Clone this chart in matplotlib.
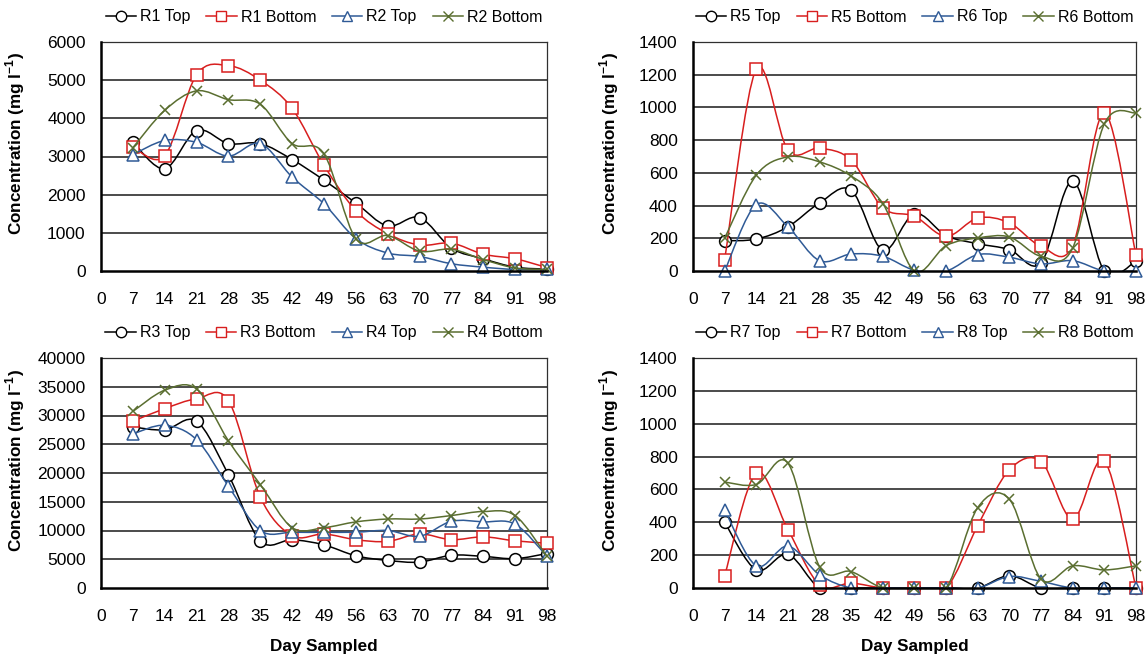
import matplotlib
matplotlib.use("Agg")
import matplotlib.pyplot as plt
from matplotlib.path import Path
from matplotlib.patches import PathPatch
from matplotlib.lines import Line2D
import numpy as np

plt.rcParams['font.family'] = ['Liberation Sans', 'DejaVu Sans']
plt.rcParams['mathtext.fontset'] = 'custom'
plt.rcParams['mathtext.rm'] = 'Liberation Sans'
plt.rcParams['mathtext.bf'] = 'Liberation Sans:bold'

days = [7, 14, 21, 28, 35, 42, 49, 56, 63, 70, 77, 84, 91, 98]
xticks = [0, 7, 14, 21, 28, 35, 42, 49, 56, 63, 70, 77, 84, 91, 98]

# Panel 1 (R1/R2)
r1_top = [3380, 2680, 3680, 3340, 3340, 2920, 2380, 1780, 1180, 1400, 600, 320, 100, 50]
r1_bot = [3250, 3020, 5140, 5380, 5000, 4260, 2770, 1580, 980, 680, 730, 440, 320, 90]
r2_top = [3050, 3420, 3370, 3010, 3340, 2460, 1760, 850, 470, 380, 190, 100, 40, 40]
r2_bot = [3230, 4210, 4720, 4490, 4370, 3340, 3070, 850, 930, 520, 570, 300, 80, 40]

# Panel 2 (R5/R6)
r5_top = [185, 195, 270, 416, 494, 127, 351, 216, 167, 131, 50, 549, 0, 60]
r5_bot = [70, 1235, 739, 751, 678, 386, 335, 212, 324, 294, 151, 155, 967, 96]
r6_top = [0, 406, 270, 63, 104, 90, 5, 0, 100, 84, 43, 63, 0, 0]
r6_bot = [200, 586, 698, 667, 580, 412, 0, 155, 202, 208, 90, 141, 900, 967]

# Panel 3 (R3/R4)
r3_top = [28000, 27500, 29000, 19700, 8200, 8400, 7500, 5600, 4800, 4500, 5700, 5500, 5100, 6000]
r3_bot = [29000, 31200, 32900, 32600, 15800, 9100, 9400, 8400, 8100, 9400, 8400, 8900, 8200, 7800]
r4_top = [26800, 28300, 25800, 17700, 10000, 9700, 9700, 9700, 10000, 9000, 11600, 11500, 11100, 5500]
r4_bot = [30700, 34400, 34600, 25600, 18000, 10500, 10500, 11500, 12000, 12000, 12600, 13300, 12600, 5500]

# Panel 4 (R7/R8)
r7_top = [400, 110, 205, 0, 0, 0, 0, 0, 0, 75, 0, 0, 0, 0]
r7_bot = [75, 700, 355, 20, 30, 0, 0, 0, 380, 720, 770, 420, 775, 0]
r8_top = [475, 135, 255, 80, 0, 0, 0, 0, 0, 70, 40, 0, 0, 0]
r8_bot = [645, 630, 760, 130, 100, 0, 0, 0, 490, 540, 55, 135, 110, 135]

panels = [
    (["R1 Top", "R1 Bottom", "R2 Top", "R2 Bottom"], [r1_top, r1_bot, r2_top, r2_bot], 6000, 1000),
    (["R5 Top", "R5 Bottom", "R6 Top", "R6 Bottom"], [r5_top, r5_bot, r6_top, r6_bot], 1400, 200),
    (["R3 Top", "R3 Bottom", "R4 Top", "R4 Bottom"], [r3_top, r3_bot, r4_top, r4_bot], 40000, 5000),
    (["R7 Top", "R7 Bottom", "R8 Top", "R8 Bottom"], [r7_top, r7_bot, r8_top, r8_bot], 1400, 200),
]

colors = ['#000000', '#d81e1e', '#2f5a96', '#5a6e30']
markers = ['o', 's', '^', 'x']
msizes = [8.5, 8.3, 8.5, 7.5]

W, H = 1145, 658
fig = plt.figure(figsize=(W / 100, H / 100), dpi=100)

boxes = [
    (101, 42, 547, 271),
    (693, 42, 1136, 271),
    (101, 358, 547, 588),
    (693, 358, 1136, 588),
]
ylabel_right = [27, 621, 27, 621]


def smooth_path(xs, ys):
    pts = np.column_stack([xs, ys]).astype(float)
    n = len(pts)
    verts = [pts[0]]
    codes = [Path.MOVETO]
    for i in range(n - 1):
        p0 = pts[i - 1] if i > 0 else pts[i]
        p1 = pts[i]
        p2 = pts[i + 1]
        p3 = pts[i + 2] if i + 2 < n else pts[i + 1]
        c1 = p1 + (p2 - p0) / 6.0
        c2 = p2 - (p3 - p1) / 6.0
        verts += [c1, c2, p2]
        codes += [Path.CURVE4] * 3
    return Path(verts, codes)


for idx, ((labels, series, ymax, ystep), (l, t, r, b)) in enumerate(zip(panels, boxes)):
    ax = fig.add_axes([l / W, 1 - b / H, (r - l) / W, (b - t) / H])
    ax.set_xlim(0, 98)
    ax.set_ylim(0, ymax)
    yt = list(range(0, ymax + 1, ystep))
    ax.set_yticks(yt)
    ax.set_xticks(xticks)
    ax.set_xticklabels([str(v) for v in xticks])
    ax.tick_params(axis='both', length=0, labelsize=12.5)
    ax.tick_params(axis='y', pad=11)
    ax.tick_params(axis='x', pad=15)
    for g in yt[1:-1]:
        ax.axhline(g, color='#1a1a1a', lw=1.1, zorder=1)
    for s in ['left', 'bottom']:
        ax.spines[s].set_color('black')
        ax.spines[s].set_linewidth(1.8)
        ax.spines[s].set_zorder(20)
    for s in ['top', 'right']:
        ax.spines[s].set_color('#303030')
        ax.spines[s].set_linewidth(0.9)

    handles = []
    for k, (lab, vals) in enumerate(zip(labels, series)):
        c = colors[k]
        patch = PathPatch(smooth_path(days, vals), facecolor='none', edgecolor=c,
                          lw=1.1, zorder=3 + 2 * k, clip_on=True)
        ax.add_patch(patch)
        ax.plot(days, vals, linestyle='none', marker=markers[k], ms=msizes[k],
                mfc='white', mec=c, mew=1.1, zorder=4 + 2 * k, clip_on=False)
        handles.append(Line2D([], [], color=c, lw=1.1, marker=markers[k], ms=7.5,
                              mfc='white', mec=c, mew=1.0))
    ax.legend(handles, labels, loc='center', bbox_to_anchor=(0.5, 1 + 25 / (b - t)),
              ncol=4, frameon=False, fontsize=11.5, handlelength=1.9,
              handletextpad=0.25, columnspacing=1.0, borderpad=0)
    ax.set_ylabel(r'Concentration (mg l$^{\mathbf{-1}}$)', fontsize=12.3, fontweight='bold')
    ax.yaxis.set_label_coords((ylabel_right[idx] - l) / (r - l), 0.555)
    if idx >= 2:
        ax.set_xlabel('Day Sampled', fontsize=12.3, fontweight='bold')
        ax.xaxis.set_label_coords(0.5, -51 / (b - t))

fig.savefig('out.png', dpi=100)
